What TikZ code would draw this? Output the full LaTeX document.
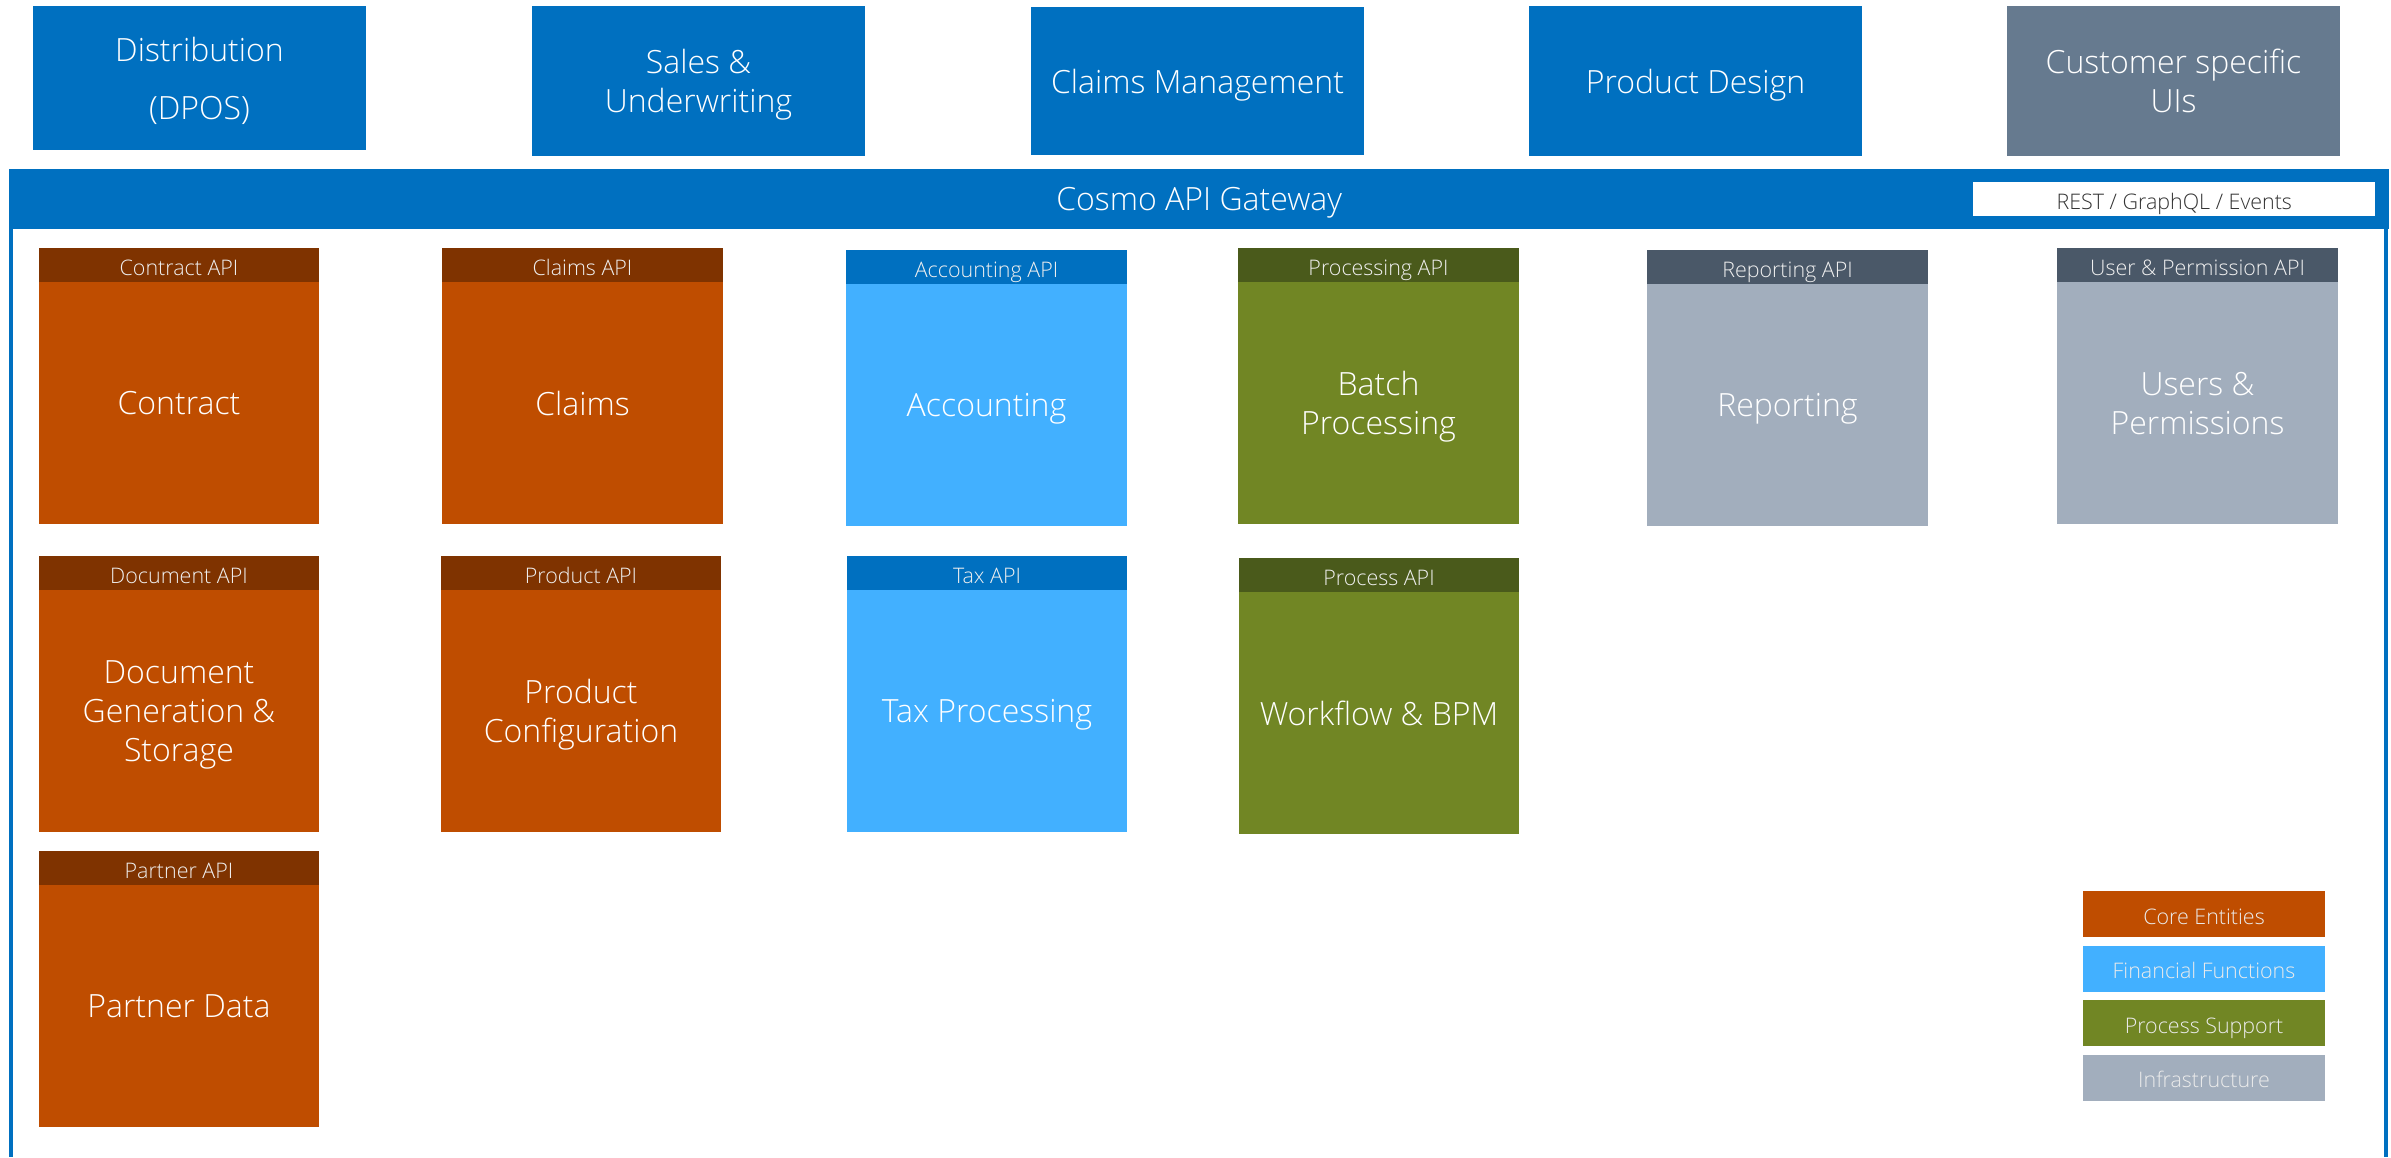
\documentclass[tikz,border=0pt]{standalone}
\usepackage{fontspec}
\IfFontExistsTF{Open Sans Light}{\setmainfont{Open Sans Light}}{\setmainfont{Open Sans}}
\usetikzlibrary{positioning}

\definecolor{gwblue}{HTML}{0070C0}
\definecolor{slate}{HTML}{667A8F}
\definecolor{coreorange}{HTML}{BF4D00}
\definecolor{coredark}{HTML}{7F3300}
\definecolor{finblue}{HTML}{42B0FF}
\definecolor{procgreen}{HTML}{718624}
\definecolor{procdark}{HTML}{4A5A1B}
\definecolor{infragrey}{HTML}{A2AEBD}
\definecolor{infradark}{HTML}{4A5868}

\begin{document}
\begin{tikzpicture}
[
x=0.01cm, y=-0.01cm,
every node/.style={inner sep=0pt, outer sep=0pt, align=center, text=white, text depth=0pt},
small/.style={text height=5.8pt, font=\fontsize{6.1}{7}\selectfont},
front/.style={fill=gwblue, minimum width=3.33cm, minimum height=1.50cm, anchor=north, font=\fontsize{9.1}{11.2}\selectfont},
api/.style={small, minimum width=2.80cm, minimum height=0.34cm, anchor=north, text=white!94!black},
service/.style={minimum width=2.80cm, minimum height=2.42cm, font=\fontsize{9.1}{11.2}\selectfont},
core/.style={service, fill=coreorange}, coreapi/.style={api, fill=coredark},
fin/.style={service, fill=finblue}, finapi/.style={api, fill=gwblue},
proc/.style={service, fill=procgreen}, procapi/.style={api, fill=procdark},
infra/.style={service, fill=infragrey}, infraapi/.style={api, fill=infradark},
legend/.style={small, minimum width=2.42cm, minimum height=0.46cm, text=white!92!black}
]
\useasboundingbox (0,0) rectangle (2391,1157);

\node[front, minimum height=1.44cm] (dist) at (199.5,6) {Distribution\\[5.4pt](DPOS)};
\node[front] (sales) at (698.5,6) {Sales \&\\Underwriting};
\node[front, minimum height=1.48cm] (claimsui) at (1197.5,7) {Claims Management};
\node[front] (design) at (1695.5,6) {Product Design};
\node[front, fill=slate] (custom) at (2173.5,6) {Customer specific\\UIs};

\node[fill=gwblue, minimum width=23.79cm, minimum height=0.60cm, anchor=north west, font=\fontsize{9.1}{11}\selectfont] (gw) at (9,169) {Cosmo API Gateway};
\node[small, fill=white, text=black!80, minimum width=4.02cm, minimum height=0.34cm, left=0.14cm of gw.east] (rest) {REST / GraphQL / Events};
\draw[gwblue, line width=0.04cm] (11,229) -- (11,1157) (2386,229) -- (2386,1157);

\node[coreapi] (contractapi) at (179,248) {Contract API};
\node[core, below=0pt of contractapi] (contract) {Contract};
\node[coreapi] (claimsapi) at (582.5,248) {Claims API};
\node[core, below=0pt of claimsapi] (claims) {Claims};
\node[finapi] (accountingapi) at (986.5,250) {Accounting API};
\node[fin, below=0pt of accountingapi] (accounting) {Accounting};
\node[procapi] (processingapi) at (1378.5,248) {Processing API};
\node[proc, below=0pt of processingapi] (batch) {Batch\\Processing};
\node[infraapi] (reportingapi) at (1787.5,250) {Reporting API};
\node[infra, below=0pt of reportingapi] (reporting) {Reporting};
\node[infraapi] (userapi) at (2197.5,248) {User \& Permission API};
\node[infra, below=0pt of userapi] (users) {Users \&\\Permissions};

\node[coreapi] (documentapi) at (179,556) {Document API};
\node[core, below=0pt of documentapi] (document) {Document\\Generation \&\\Storage};
\node[coreapi] (productapi) at (581,556) {Product API};
\node[core, below=0pt of productapi] (product) {Product\\Configuration};
\node[finapi] (taxapi) at (987,556) {Tax API};
\node[fin, below=0pt of taxapi] (tax) {Tax Processing};
\node[procapi] (processapi) at (1379,558) {Process API};
\node[proc, below=0pt of processapi] (workflow) {Workflow \& BPM};

\node[coreapi] (partnerapi) at (179,851) {Partner API};
\node[core, below=0pt of partnerapi] (partner) {Partner Data};

\node[legend, fill=coreorange, anchor=north] (lcore) at (2204,891) {Core Entities};
\node[legend, fill=finblue, below=0.085cm of lcore] (lfin) {Financial Functions};
\node[legend, fill=procgreen, below=0.085cm of lfin] (lproc) {Process Support};
\node[legend, fill=infragrey, below=0.085cm of lproc] (linfra) {Infrastructure};
\end{tikzpicture}
\end{document}
